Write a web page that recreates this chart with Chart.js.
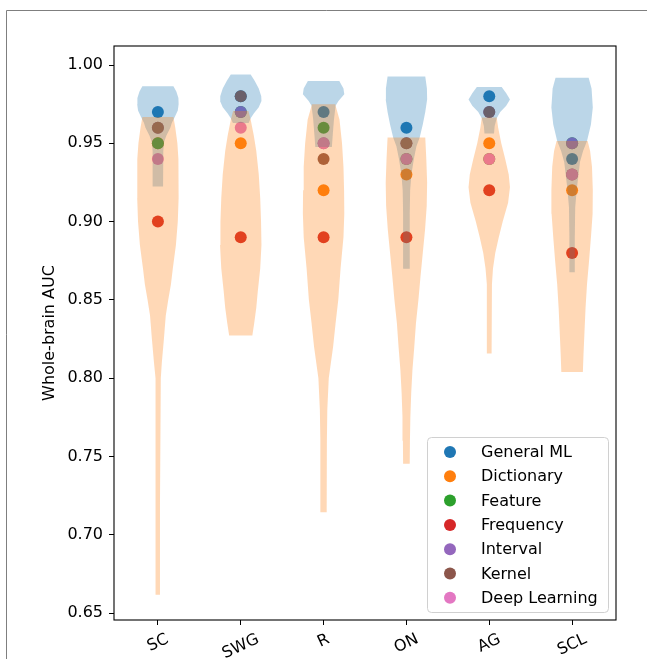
<!DOCTYPE html>
<html><head><meta charset="utf-8">
<script src="https://cdn.jsdelivr.net/npm/chart.js@4.4.1/dist/chart.umd.min.js"></script>
<style>html,body{margin:0;padding:0;background:#fff}canvas{display:block}</style>
</head><body>
<canvas id="c" width="647" height="659"></canvas>
<script>
// ---------- data ----------
const CATEGORIES = ['SC', 'SWG', 'R', 'ON', 'AG', 'SCL'];
const Y_TICKS = [0.65, 0.70, 0.75, 0.80, 0.85, 0.90, 0.95, 1.00];
const SERIES_NAMES = ['General ML', 'Dictionary', 'Feature', 'Frequency', 'Interval', 'Kernel', 'Deep Learning'];
const GENERAL_ML    = [0.97, 0.98, 0.97, 0.96, 0.98, 0.94];
const DICTIONARY    = [0.95, 0.95, 0.92, 0.93, 0.95, 0.92];
const FEATURE       = [0.95, 0.97, 0.96, 0.94, 0.94, 0.95];
const FREQUENCY     = [0.90, 0.89, 0.89, 0.89, 0.92, 0.88];
const INTERVAL      = [0.96, 0.97, 0.95, 0.95, 0.97, 0.95];
const KERNEL        = [0.96, 0.98, 0.94, 0.95, 0.97, 0.93];
const DEEP_LEARNING = [0.94, 0.96, 0.95, 0.94, 0.94, 0.93];

// violin profiles (AUC level, relative density 0..1) — blue set
const SC_BLUE_Y  = [0.9864, 0.983, 0.979, 0.975, 0.971, 0.967, 0.963, 0.960, 0.955, 0.951, 0.945, 0.935, 0.9224];
const SC_BLUE_D  = [0.75, 0.89, 0.99, 1.00, 0.96, 0.82, 0.67, 0.60, 0.41, 0.30, 0.26, 0.25, 0.25];
const SWG_BLUE_Y = [0.994, 0.990, 0.985, 0.980, 0.977, 0.973, 0.969, 0.966, 0.963];
const SWG_BLUE_D = [0.48, 0.67, 0.87, 0.99, 1.00, 0.87, 0.63, 0.48, 0.38];
const R_BLUE_Y   = [0.9898, 0.985, 0.9813, 0.977, 0.974, 0.965, 0.955, 0.9477];
const R_BLUE_D   = [0.76, 0.96, 1.00, 0.72, 0.58, 0.50, 0.44, 0.40];
const ON_BLUE_Y  = [0.9926, 0.985, 0.978, 0.970, 0.962, 0.9537, 0.948, 0.940, 0.930, 0.920, 0.905, 0.890, 0.8698];
const ON_BLUE_D  = [0.91, 0.99, 1.00, 0.91, 0.79, 0.64, 0.48, 0.36, 0.24, 0.18, 0.16, 0.16, 0.16];
const AG_BLUE_Y  = [0.986, 0.982, 0.978, 0.974, 0.970, 0.966, 0.961, 0.9562];
const AG_BLUE_D  = [0.60, 0.82, 1.00, 0.82, 0.53, 0.36, 0.26, 0.23];
const SCL_BLUE_Y = [0.9919, 0.985, 0.9728, 0.962, 0.9515, 0.945, 0.938, 0.930, 0.920, 0.909, 0.890, 0.8676];
const SCL_BLUE_D = [0.80, 0.94, 1.00, 0.91, 0.72, 0.53, 0.38, 0.31, 0.22, 0.15, 0.13, 0.13];

// violin profiles — orange set
const SC_ORANGE_Y  = [0.9668, 0.960, 0.950, 0.940, 0.930, 0.915, 0.900, 0.885, 0.870, 0.860, 0.850, 0.840, 0.825, 0.810, 0.800, 0.785, 0.750, 0.720, 0.690, 0.6617];
const SC_ORANGE_D  = [0.75, 0.84, 0.94, 0.99, 1.00, 1.00, 0.96, 0.87, 0.72, 0.63, 0.50, 0.38, 0.29, 0.19, 0.14, 0.12, 0.11, 0.10, 0.10, 0.10];
const SWG_ORANGE_Y = [0.9707, 0.965, 0.955, 0.945, 0.930, 0.915, 0.900, 0.885, 0.870, 0.855, 0.845, 0.835, 0.8272];
const SWG_ORANGE_D = [0.37, 0.48, 0.63, 0.75, 0.87, 0.94, 0.98, 1.00, 0.94, 0.82, 0.75, 0.65, 0.56];
const R_ORANGE_Y   = [0.9749, 0.965, 0.950, 0.935, 0.920, 0.905, 0.890, 0.870, 0.850, 0.835, 0.820, 0.800, 0.780, 0.760, 0.740, 0.7144];
const R_ORANGE_D   = [0.56, 0.77, 0.89, 0.96, 0.99, 1.00, 0.96, 0.82, 0.71, 0.58, 0.46, 0.25, 0.18, 0.16, 0.15, 0.15];
const ON_ORANGE_Y  = [0.9537, 0.940, 0.925, 0.910, 0.895, 0.880, 0.865, 0.850, 0.835, 0.820, 0.805, 0.790, 0.775, 0.760, 0.7454];
const ON_ORANGE_D  = [0.91, 0.96, 1.00, 0.98, 0.90, 0.79, 0.68, 0.58, 0.46, 0.38, 0.29, 0.23, 0.19, 0.17, 0.16];
const AG_ORANGE_Y  = [0.9664, 0.960, 0.950, 0.940, 0.930, 0.922, 0.912, 0.900, 0.890, 0.880, 0.870, 0.860, 0.850, 0.835, 0.8158];
const AG_ORANGE_D  = [0.36, 0.43, 0.58, 0.77, 0.94, 1.00, 0.91, 0.65, 0.46, 0.29, 0.18, 0.13, 0.11, 0.11, 0.12];
const SCL_ORANGE_Y = [0.9515, 0.945, 0.935, 0.920, 0.905, 0.890, 0.875, 0.860, 0.845, 0.830, 0.815, 0.8039];
const SCL_ORANGE_D = [0.75, 0.87, 0.96, 1.00, 0.99, 0.91, 0.82, 0.72, 0.65, 0.60, 0.55, 0.52];

// ---------- build ----------
const SERIES_VALUES = [GENERAL_ML, DICTIONARY, FEATURE, FREQUENCY, INTERVAL, KERNEL, DEEP_LEARNING];
const SERIES_COLORS = ['#1f77b4', '#ff7f0e', '#2ca02c', '#d62728', '#9467bd', '#8c564b', '#e377c2'];
const BLUE_PROFILES = [[SC_BLUE_Y, SC_BLUE_D], [SWG_BLUE_Y, SWG_BLUE_D], [R_BLUE_Y, R_BLUE_D], [ON_BLUE_Y, ON_BLUE_D], [AG_BLUE_Y, AG_BLUE_D], [SCL_BLUE_Y, SCL_BLUE_D]];
const ORANGE_PROFILES = [[SC_ORANGE_Y, SC_ORANGE_D], [SWG_ORANGE_Y, SWG_ORANGE_D], [R_ORANGE_Y, R_ORANGE_D], [ON_ORANGE_Y, ON_ORANGE_D], [AG_ORANGE_Y, AG_ORANGE_D], [SCL_ORANGE_Y, SCL_ORANGE_D]];
const HALF_WIDTH = 0.25;
const FONT = '"DejaVu Sans", sans-serif';

function violinOutline(pos, ys, ds) {
  const right = ys.map((y, k) => ({x: pos + ds[k] * HALF_WIDTH, y}));
  const left = ys.map((y, k) => ({x: pos - ds[k] * HALF_WIDTH, y})).reverse();
  return right.concat(left);
}

const datasets = [];
SERIES_NAMES.forEach((name, s) => {
  datasets.push({
    type: 'scatter', label: name,
    data: CATEGORIES.map((c, i) => ({x: i, y: SERIES_VALUES[s][i]})),
    backgroundColor: SERIES_COLORS[s], borderWidth: 0,
    pointRadius: 6, pointHoverRadius: 6, order: 30 - s
  });
});
BLUE_PROFILES.forEach(([ys, ds], i) => {
  datasets.push({
    type: 'line', label: 'blue-' + CATEGORIES[i], isViolin: true,
    data: violinOutline(i, ys, ds),
    backgroundColor: 'rgba(31,119,180,0.3)', borderColor: 'rgba(0,0,0,0)', borderWidth: 0,
    pointRadius: 0, fill: 'shape', tension: 0, order: 2
  });
});
ORANGE_PROFILES.forEach(([ys, ds], i) => {
  datasets.push({
    type: 'line', label: 'orange-' + CATEGORIES[i], isViolin: true,
    data: violinOutline(i, ys, ds),
    backgroundColor: 'rgba(255,127,14,0.3)', borderColor: 'rgba(0,0,0,0)', borderWidth: 0,
    pointRadius: 0, fill: 'shape', tension: 0, order: 1
  });
});

const framePlugin = {
  id: 'frame',
  beforeDraw(chart) {
    const ctx = chart.ctx;
    ctx.save();
    ctx.strokeStyle = '#7f7f7f'; ctx.lineWidth = 1;
    ctx.beginPath();
    ctx.moveTo(6.5, 659); ctx.lineTo(6.5, 10.5); ctx.lineTo(647, 10.5);
    ctx.stroke();
    ctx.restore();
  },
  afterDraw(chart) {
    const ctx = chart.ctx, a = chart.chartArea;
    ctx.save();
    ctx.strokeStyle = '#000'; ctx.lineWidth = 1.1;
    ctx.strokeRect(a.left, a.top, a.right - a.left, a.bottom - a.top);
    // rotated category labels, centred under each tick
    const xs = chart.scales.x;
    const ang = 25 * Math.PI / 180;
    ctx.font = '16px ' + FONT; ctx.fillStyle = '#000';
    ctx.textAlign = 'center'; ctx.textBaseline = 'middle';
    CATEGORIES.forEach((c, i) => {
      const w = ctx.measureText(c).width, h = 16 * 1.17;
      const cx = xs.getPixelForValue(i);
      const cy = a.bottom + 10 + (w * Math.sin(ang) + h * Math.cos(ang)) / 2;
      ctx.save(); ctx.translate(cx, cy); ctx.rotate(-ang); ctx.fillText(c, 0, 0); ctx.restore();
    });
    // legend
    const bw = 181, bh = 175;
    const bx = a.right - 8 - bw, by = a.bottom - 8 - bh;
    ctx.beginPath();
    if (ctx.roundRect) ctx.roundRect(bx + 0.5, by + 0.5, bw, bh, 4); else ctx.rect(bx + 0.5, by + 0.5, bw, bh);
    ctx.fillStyle = 'rgba(255,255,255,0.8)'; ctx.fill();
    ctx.strokeStyle = '#d0d0d0'; ctx.lineWidth = 1; ctx.stroke();
    ctx.textAlign = 'left'; ctx.textBaseline = 'middle'; ctx.font = '16px ' + FONT;
    SERIES_NAMES.forEach((name, s) => {
      const yy = by + 15 + s * 24.3;
      ctx.beginPath(); ctx.arc(bx + 23, yy, 6, 0, Math.PI * 2);
      ctx.fillStyle = SERIES_COLORS[s]; ctx.fill();
      ctx.fillStyle = '#000'; ctx.fillText(name, bx + 54, yy + 1);
    });
    ctx.restore();
  }
};

new Chart(document.getElementById('c'), {
  type: 'scatter',
  data: {datasets},
  options: {
    responsive: false, animation: false, devicePixelRatio: 1,
    layout: {padding: {left: 0, top: 46, right: 31, bottom: 0}},
    plugins: {legend: {display: false}, tooltip: {enabled: false}},
    scales: {
      x: {
        type: 'linear', min: -0.53, max: 5.53,
        afterBuildTicks: s => { s.ticks = CATEGORIES.map((c, i) => ({value: i})); },
        afterFit: s => { s.height = 39; },
        ticks: {display: false},
        grid: {drawOnChartArea: false, drawTicks: true, tickLength: 5, color: '#000', tickColor: '#000', tickWidth: 1},
        border: {display: false}
      },
      y: {
        type: 'linear', min: 0.64553, max: 1.01214,
        afterBuildTicks: s => { s.ticks = Y_TICKS.map(v => ({value: v})); },
        afterFit: s => { s.width = 114; },
        ticks: {font: {family: FONT, size: 16}, color: '#000', padding: 6, callback: v => v.toFixed(2)},
        grid: {drawOnChartArea: false, drawTicks: true, tickLength: 5, color: '#000', tickColor: '#000', tickWidth: 1},
        border: {display: false},
        title: {display: true, text: 'Whole-brain AUC', font: {family: FONT, size: 16}, color: '#000', padding: {top: 40, bottom: 0}}
      }
    }
  },
  plugins: [framePlugin]
});
</script>
</body></html>
